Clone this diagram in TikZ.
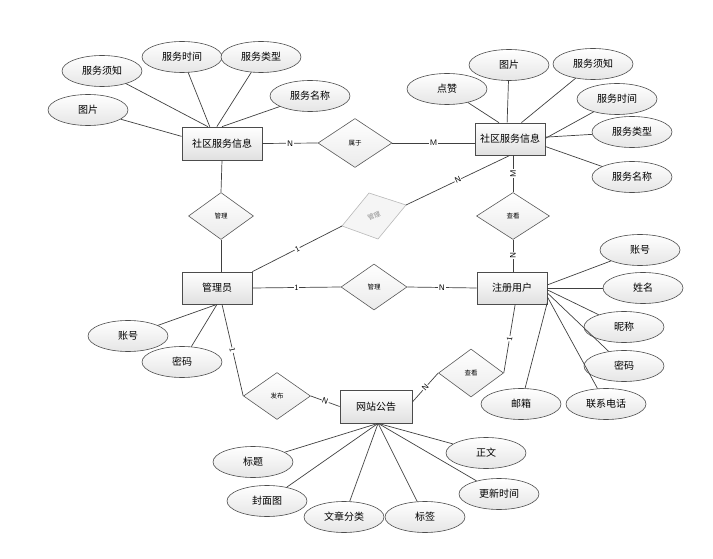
\documentclass[tikz,border=0pt]{standalone}
\usepackage{fontspec}
\newfontfamily\cjk{Noto Sans CJK SC}
\usetikzlibrary{shapes.geometric,shadows}
\begin{document}
\begin{tikzpicture}[x=1pt,y=-1pt,font=\cjk,
  ent/.style={draw=black!70,line width=0.7pt,top color=white,bottom color=black!12,
    minimum width=70pt,minimum height=32pt,inner sep=0pt,
    font=\cjk\fontsize{10}{12}\selectfont,
    drop shadow={shadow xshift=1pt,shadow yshift=-1pt,opacity=0.3}},
  attr/.style={ellipse,draw=black!70,line width=0.6pt,top color=white,bottom color=black!10,
    minimum width=80pt,minimum height=31pt,inner sep=0pt,
    font=\cjk\fontsize{10}{12}\selectfont},
  rel/.style={diamond,draw=black!65,line width=0.6pt,top color=white,bottom color=black!8,
    inner sep=0pt,font=\cjk\fontsize{6.5}{7}\selectfont},
  ghost/.style={draw=black!28,line width=0.6pt,fill=black!4},
  con/.style={draw=black!75,line width=0.7pt},
  card/.style={fill=white,inner sep=0.6pt,font=\sffamily\fontsize{8}{9}\selectfont}
]
\useasboundingbox (0,0) rectangle (713,559);

% entities
\node[ent,minimum width=80pt,minimum height=33pt] (e1) at (222,143.5) {社区服务信息};
\node[ent] (e2) at (510,139) {社区服务信息};
\node[ent] (admin) at (217,288) {管理员};
\node[ent] (user) at (512,288) {注册用户};
\node[ent,minimum width=72pt,minimum height=33pt] (notice) at (376,406.5) {网站公告};

% relations
\node[rel,minimum width=74pt,minimum height=49pt] (d1) at (355,143) {属于};
\node[rel,minimum width=65pt,minimum height=47pt] (d2) at (221,216) {管理};
\node[rel,minimum width=73pt,minimum height=47pt] (d3) at (513,216) {查看};
\node[rel,minimum width=66pt,minimum height=46pt] (d4) at (374,287) {管理};
\node[rel,minimum width=65pt,minimum height=48pt] (d5) at (471,373) {查看};
\node[rel,minimum width=67pt,minimum height=47pt] (d6) at (277,396) {发布};

% ghost relation
\coordinate (gc) at (374,216);
\path (gc) +(-32,10) coordinate (gl) +(-5,-23) coordinate (gt)
           +(32,-11) coordinate (gr) +(4,23) coordinate (gb);
\draw[ghost] (gl) -- (gt) -- (gr) -- (gb) -- cycle;
\node[rotate=25,text=black!45,font=\cjk\fontsize{6.5}{7}\selectfont] (g) at (gc) {管理};

% attributes of e1
\node[attr] (a1) at (88,110) {图片};
\node[attr] (a2) at (102,71) {服务须知};
\node[attr] (a3) at (182,57) {服务时间};
\node[attr] (a4) at (261,57) {服务类型};
\node[attr] (a5) at (310,96) {服务名称};
% attributes of e2
\node[attr] (b1) at (447,89) {点赞};
\node[attr] (b2) at (509,65) {图片};
\node[attr] (b3) at (593,64) {服务须知};
\node[attr] (b4) at (617,99) {服务时间};
\node[attr] (b5) at (632,132) {服务类型};
\node[attr] (b6) at (632,177) {服务名称};
% attributes of admin
\node[attr] (c1) at (128,336) {账号};
\node[attr] (c2) at (182,362) {密码};
% attributes of user
\node[attr] (u1) at (640,250) {账号};
\node[attr] (u2) at (643,288) {姓名};
\node[attr] (u3) at (624,327) {昵称};
\node[attr] (u4) at (624,366) {密码};
\node[attr] (u5) at (606,404) {联系电话};
\node[attr] (u6) at (521,404) {邮箱};
% attributes of notice
\node[attr] (n1) at (253,462) {标题};
\node[attr] (n2) at (267,501) {封面图};
\node[attr] (n3) at (344,517) {文章分类};
\node[attr] (n4) at (425,517) {标签};
\node[attr] (n5) at (499,494) {更新时间};
\node[attr] (n6) at (486,453) {正文};

% attribute connectors
\draw[con] (a1) -- (e1.170.8);
\draw[con] (a2) -- (e1.130);
\draw[con] (a3) -- (e1.126);
\draw[con] (a4) -- (e1.107);
\draw[con] (a5) -- (e1.90);

\draw[con] (b1) -- (e2.124.5);
\draw[con] (b2) -- (e2.100.6);
\draw[con] (b3) -- (e2.55.5);
\draw[con] (b4) -- (e2.1);
\draw[con] (b5) -- (e2.3);
\draw[con] (b6) -- (e2.-12.5);

\draw[con] (c1) -- (admin.south);
\draw[con] (c2) -- (admin.south);

\draw[con] (u1) -- (user.5);
\draw[con] (u2) -- (user.0);
\draw[con] (u3) -- (user.-3);
\draw[con] (u4) -- (user.-8);
\draw[con] (u5) -- (user.-14.5);
\draw[con] (u6) -- (user.-22);

\draw[con] (n1) -- (notice.-83);
\draw[con] (n2) -- (notice.-83);
\draw[con] (n3) -- (notice.-83);
\draw[con] (n4) -- (notice.-83);
\draw[con] (n5) -- (notice.-83);
\draw[con] (n6) -- (notice.-83);

% relation connectors
\draw[con] (e1.east) -- node[card]{N} (d1.west);
\draw[con] (d1.east) -- node[card]{M} (d1.east -| e2.west);
\draw[con] (e1.south) -- (d2.north);
\draw[con] (d2.south) -- (d2.south |- admin.north);
\draw[con] (admin.north east) -- node[card,sloped]{1} (gl);
\draw[con] (gr) -- node[card,sloped]{N} (e2.south);
\draw[con] (d3.north) -- node[card,sloped]{M} (d3.north |- e2.south);
\draw[con] (d3.south) -- node[card,sloped]{N} (d3.south |- user.north);
\draw[con] (admin.east) -- node[card]{1} (d4.west);
\draw[con] (d4.east) -- node[card]{N} (user.west);
\draw[con] (admin.-73) -- node[card,sloped]{1} (d6.west);
\draw[con] (d6.east) -- node[card,sloped]{N} (notice.west);
\draw[con] (d5.east) -- node[card,sloped]{1} (user.-79);
\draw[con] (d5.west) -- node[card,sloped]{N} (notice.7);
\end{tikzpicture}
\end{document}
